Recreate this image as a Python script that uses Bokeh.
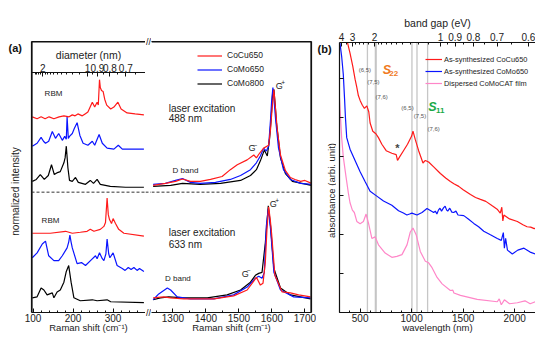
from bokeh.plotting import figure
from bokeh.models import (LinearAxis, FixedTicker, SingleIntervalTicker, Span, Label,
                          Legend, LegendItem, CustomJSTickFormatter)
from bokeh.layouts import row
from bokeh.embed import file_html
from bokeh.resources import INLINE

# ====================== DATA ======================
# ---- panel (a): RBM region, Raman shift (cm-1) vs normalized intensity (stacked, a.u.)
rbm488_cocu650_x = [98, 110, 120, 130, 140, 152, 165, 177, 190, 198, 205, 212, 223, 230, 237, 248, 254, 260,
                    263, 266, 268, 271, 275, 279, 284, 294, 302, 312, 320, 335, 355, 377]
rbm488_cocu650_y = [2.00, 1.98, 2.00, 1.98, 2.00, 1.98, 2.00, 2.01, 2.00, 2.02, 2.01, 2.03, 2.01, 2.03, 2.05,
                    2.15, 2.10, 2.15, 2.12, 2.38, 2.30, 2.27, 2.26, 2.18, 2.12, 2.08, 2.10, 2.15, 2.08, 2.04,
                    2.03, 2.02]
rbm488_como650_x = [98, 110, 120, 126, 131, 139, 148, 156, 164, 173, 179, 183, 185, 188, 191, 198, 203, 210,
                    217, 225, 237, 248, 254, 265, 273, 285, 302, 313, 323, 377]
rbm488_como650_y = [1.70, 1.73, 1.79, 1.75, 1.73, 1.75, 1.85, 1.78, 1.83, 1.76, 1.80, 1.77, 2.00, 1.78, 1.80,
                    1.83, 1.88, 1.94, 1.81, 1.73, 1.71, 1.75, 1.71, 1.82, 1.73, 1.68, 1.67, 1.71, 1.67, 1.67]
rbm488_como800_x = [98, 108, 118, 128, 138, 146, 153, 161, 168, 177, 180, 183, 187, 191, 198, 206, 213, 231,
                    243, 251, 260, 268, 293, 331, 377]
rbm488_como800_y = [1.34, 1.36, 1.41, 1.36, 1.40, 1.51, 1.41, 1.43, 1.44, 1.53, 1.58, 1.70, 1.48, 1.35, 1.34,
                    1.38, 1.33, 1.31, 1.35, 1.32, 1.36, 1.31, 1.29, 1.28, 1.28]
rbm633_cocu650_x = [98, 143, 181, 198, 218, 235, 243, 252, 268, 277, 281, 285, 288, 291, 296, 300, 306, 314,
                    327, 377]
rbm633_cocu650_y = [0.81, 0.81, 0.83, 0.81, 0.82, 0.83, 0.85, 0.83, 0.85, 0.88, 0.92, 1.17, 1.00, 0.95, 0.91,
                    0.96, 0.91, 0.85, 0.81, 0.78]
rbm633_como650_x = [98, 110, 123, 131, 139, 152, 164, 173, 185, 189, 192, 195, 198, 210, 221, 231, 246, 256,
                    260, 266, 273, 277, 282, 285, 289, 292, 300, 310, 323, 330, 338, 345, 352, 360, 366, 377]
rbm633_como650_y = [0.56, 0.61, 0.70, 0.73, 0.58, 0.53, 0.53, 0.58, 0.66, 0.72, 0.79, 0.72, 0.66, 0.50, 0.51,
                    0.48, 0.54, 0.58, 0.55, 0.61, 0.55, 0.53, 0.60, 0.75, 0.60, 0.56, 0.61, 0.48, 0.45, 0.43,
                    0.46, 0.44, 0.46, 0.43, 0.45, 0.42]
rbm633_como800_x = [98, 110, 120, 127, 135, 148, 152, 160, 168, 177, 183, 189, 195, 202, 218, 248, 260, 285,
                    294, 377]
rbm633_como800_y = [0.15, 0.16, 0.25, 0.23, 0.18, 0.20, 0.15, 0.21, 0.23, 0.31, 0.42, 0.48, 0.31, 0.15, 0.12,
                    0.13, 0.12, 0.13, 0.11, 0.10]

# ---- panel (a): D / G band region
g488_cocu650_x = [1240, 1277, 1308, 1329, 1353, 1383, 1414, 1449, 1474, 1495, 1525, 1545, 1553, 1563, 1575,
                  1590, 1596, 1601, 1606, 1611, 1616, 1626, 1641, 1656, 1670, 1687, 1700, 1720]
g488_cocu650_y = [1.30, 1.32, 1.34, 1.365, 1.34, 1.34, 1.36, 1.39, 1.46, 1.51, 1.56, 1.61, 1.58, 1.63, 1.68,
                  1.71, 1.88, 2.10, 2.28, 2.08, 1.88, 1.61, 1.45, 1.38, 1.36, 1.34, 1.35, 1.32]
g488_como650_x = [1240, 1277, 1308, 1329, 1353, 1383, 1429, 1474, 1505, 1535, 1553, 1565, 1575, 1583, 1590,
                  1596, 1599, 1603, 1607, 1611, 1620, 1635, 1656, 1687, 1720]
g488_como650_y = [1.31, 1.32, 1.35, 1.37, 1.33, 1.32, 1.33, 1.36, 1.40, 1.46, 1.53, 1.60, 1.68, 1.65, 1.70,
                  1.98, 2.15, 2.30, 2.15, 1.98, 1.68, 1.46, 1.36, 1.32, 1.31]
g488_como800_x = [1240, 1293, 1329, 1383, 1444, 1505, 1535, 1553, 1565, 1577, 1586, 1593, 1598, 1602, 1606,
                  1610, 1614, 1626, 1641, 1662, 1720]
g488_como800_y = [1.29, 1.30, 1.32, 1.31, 1.32, 1.35, 1.40, 1.46, 1.55, 1.66, 1.60, 1.78, 2.00, 2.23, 2.28,
                  2.12, 1.93, 1.58, 1.42, 1.34, 1.30]
g633_cocu650_x = [1240, 1272, 1293, 1333, 1424, 1484, 1525, 1545, 1553, 1565, 1573, 1580, 1585, 1590, 1595,
                  1599, 1609, 1631, 1656, 1681, 1717]
g633_cocu650_y = [0.15, 0.16, 0.15, 0.14, 0.14, 0.17, 0.23, 0.32, 0.36, 0.28, 0.30, 0.51, 0.85, 1.08, 0.95,
                  0.81, 0.38, 0.21, 0.20, 0.18, 0.16]
g633_como650_x = [1240, 1257, 1283, 1293, 1313, 1353, 1424, 1484, 1525, 1550, 1560, 1570, 1577, 1583, 1589,
                  1596, 1606, 1626, 1666, 1717]
g633_como650_y = [0.13, 0.19, 0.25, 0.23, 0.16, 0.14, 0.14, 0.18, 0.26, 0.35, 0.37, 0.35, 0.41, 0.88, 1.06,
                  0.85, 0.41, 0.23, 0.16, 0.15]
g633_como800_x = [1240, 1262, 1287, 1333, 1404, 1464, 1505, 1535, 1550, 1560, 1570, 1580, 1589, 1596, 1606,
                  1626, 1656, 1717]
g633_como800_y = [0.13, 0.15, 0.16, 0.15, 0.15, 0.18, 0.23, 0.31, 0.38, 0.40, 0.41, 0.71, 1.09, 0.88, 0.45,
                  0.25, 0.18, 0.14]
separator_level = 1.23          # dashed line between the 488 nm and 633 nm stacks

# top axis of (a): tube diameter (nm), RBM relation w = 223.5/d + 12.5
diam_labels = [2, 1, 0.9, 0.8, 0.7]
diam_minor = [2.4, 2.3, 2.2, 2.1, 1.9, 1.8, 1.7, 1.6, 1.5, 1.4, 1.3, 1.2, 1.1, 0.95, 0.85, 0.75, 0.65]

# ---- panel (b): absorbance spectra, wavelength (nm) vs absorbance (a.u.)
abs_cocu650_x = [370, 376, 402, 429, 451, 468, 483, 500, 522, 542, 565, 584, 597, 623, 653, 678, 711, 753,
                 808, 850, 863, 882, 921, 960, 1000, 1013, 1035, 1068, 1110, 1133, 1165, 1214, 1279, 1330,
                 1376, 1410, 1457, 1500, 1571, 1620, 1668, 1720, 1782, 1830, 1860, 1875, 1885, 1895, 1950,
                 2026, 2080, 2120, 2155, 2190, 2220, 2250, 2280]
abs_cocu650_y = [1.45, 1.388, 1.33, 1.263, 1.197, 1.155, 1.113, 1.088, 1.063, 1.047, 1.06, 1.03, 0.972,
                 0.93, 0.917, 0.897, 0.863, 0.83, 0.817, 0.81, 0.78, 0.797, 0.83, 0.863, 0.905, 0.93, 0.888,
                 0.83, 0.767, 0.78, 0.772, 0.747, 0.713, 0.69, 0.672, 0.66, 0.647, 0.63, 0.605, 0.59, 0.58,
                 0.57, 0.547, 0.53, 0.51, 0.54, 0.47, 0.50, 0.48, 0.467, 0.45, 0.44, 0.438, 0.43, 0.44, 0.42,
                 0.42]
abs_como650_x = [300, 321, 337, 349, 358, 370, 402, 451, 500, 548, 597, 662, 727, 808, 873, 920, 954, 980,
                 1003, 1052, 1101, 1149, 1214, 1230, 1245, 1260, 1275, 1290, 1311, 1325, 1340, 1350, 1370,
                 1390, 1408, 1430, 1450, 1506, 1550, 1603, 1650, 1700, 1760, 1831, 1870, 1890, 1900, 1912,
                 1930, 1977, 2030, 2090, 2150, 2200, 2280]
abs_como650_y = [1.40, 1.313, 1.22, 1.097, 0.997, 0.897, 0.838, 0.78, 0.722, 0.672, 0.622, 0.597, 0.572,
                 0.55, 0.522, 0.51, 0.50, 0.505, 0.51, 0.50, 0.513, 0.533, 0.513, 0.52, 0.505, 0.525, 0.535,
                 0.52, 0.538, 0.545, 0.525, 0.52, 0.535, 0.515, 0.513, 0.52, 0.50, 0.497, 0.48, 0.457, 0.44,
                 0.417, 0.40, 0.38, 0.37, 0.41, 0.33, 0.38, 0.32, 0.30, 0.32, 0.33, 0.31, 0.30, 0.288]
abs_film_x = [300, 321, 337, 363, 386, 402, 425, 444, 468, 500, 532, 558, 585, 614, 646, 678, 743, 808, 857,
              906, 955, 987, 1013, 1045, 1084, 1133, 1165, 1198, 1247, 1296, 1376, 1400, 1410, 1474, 1636,
              1831, 1850, 1870, 1900, 1950, 2026, 2100, 2150, 2200, 2280]
abs_film_y = [1.10, 0.897, 0.797, 0.697, 0.613, 0.563, 0.525, 0.513, 0.467, 0.455, 0.467, 0.505, 0.45, 0.38,
              0.388, 0.347, 0.305, 0.283, 0.288, 0.297, 0.347, 0.413, 0.433, 0.397, 0.313, 0.263, 0.255,
              0.23, 0.18, 0.147, 0.113, 0.115, 0.10, 0.088, 0.067, 0.055, 0.07, 0.04, 0.065, 0.045, 0.05,
              0.06, 0.045, 0.055, 0.05]
# S22 / S11 transition wavelengths of (6,5), (7,5), (7,6) (nm)
transition_nm = [571, 648, 656, 1003, 1052, 1155]

# top axis of (b): band gap (eV), placed as drawn in the source figure (lambda = 1280 / E)
ev_labels = [4, 3, 2, 1, 0.9, 0.8, 0.7, 0.6]
ev_minor = [3.5, 2.8, 2.6, 2.4, 2.2, 1.9, 1.8, 1.7, 1.6, 1.5, 1.4, 1.3, 1.2, 1.1, 0.95, 0.85, 0.75, 0.65]

# ====================== STYLE / LAYOUT ======================
FONT = "Liberation Sans"
TXT = "#222222"
AXC = "#111111"
RED = "#ff1a1a"
BLUE = "#0a14ff"
BLACK = "#000000"
PINK = "#ff86c8"
ORANGE = "#f07a1e"
GREEN = "#1aaa48"
H = 337
TOP_A, TOP_B, BOTTOM = 41, 42, 25
RAMAN = "Raman shift (cm\u207b\u00b9)"
YMAX_A = 2.77
EMPTY = CustomJSTickFormatter(code="return ''")


def style_axis(ax):
    ax.axis_line_color = AXC
    ax.axis_line_width = 1.2
    ax.major_tick_line_color = AXC
    ax.minor_tick_line_color = AXC
    ax.major_tick_in = 4
    ax.major_tick_out = 0
    ax.minor_tick_in = 2
    ax.minor_tick_out = 0
    ax.major_label_text_font = FONT
    ax.major_label_text_font_size = "10px"
    ax.major_label_text_color = TXT
    ax.major_label_standoff = 1
    ax.axis_label_text_font = FONT
    ax.axis_label_text_font_size = "9.5px"
    ax.axis_label_text_font_style = "normal"
    ax.axis_label_text_color = TXT
    ax.axis_label_standoff = -3


def line_only(ax, mid):
    # frame edge drawn as an axis line only: one hidden tick, no label
    ax.ticker = FixedTicker(ticks=[mid])
    ax.formatter = EMPTY
    style_axis(ax)
    ax.major_tick_line_color = None
    ax.minor_tick_line_color = None
    ax.major_tick_out = 1
    ax.major_label_standoff = 0
    ax.axis_label_standoff = 0
    return ax


def frame_edge(p, loc, dim):
    # reinforce a frame edge that has no tick marks
    p.add_layout(Span(location=loc, dimension=dim, line_color=AXC, line_width=2.2))


def add_text(p, x, y, text, size="8px", color=TXT, align="center", baseline="middle",
             style="normal", angle=0):
    p.add_layout(Label(x=x, y=y, text=text, text_font=FONT, text_font_size=size,
                       text_color=color, text_align=align, text_baseline=baseline,
                       text_font_style=style, angle=angle, angle_units="deg"))


def base_fig(width, xr, yr, left, right, top, bottom, yloc="left"):
    p = figure(width=width, height=H, x_range=xr, y_range=yr, output_backend="svg",
               toolbar_location=None, min_border_left=left, min_border_right=right,
               min_border_top=top, min_border_bottom=bottom, y_axis_location=yloc)
    p.frame_align = False
    p.grid.visible = False
    p.outline_line_color = None
    return p


def gutter(width):
    # narrow text-only strip (pixel coordinates, y downwards)
    p = figure(width=width, height=H, x_range=(0, width), y_range=(H, 0), output_backend="svg",
               toolbar_location=None, min_border=0, x_axis_location=None, y_axis_location=None)
    p.frame_align = False
    p.grid.visible = False
    p.outline_line_color = None
    return p


frame_h_a = H - TOP_A - BOTTOM
sep_px = TOP_A + (YMAX_A - separator_level) / YMAX_A * frame_h_a

# ---------------- gutter left of (a) ----------------
gA = gutter(23)
add_text(gA, 8, 47.5, "(a)", "11px", "#111111", align="left", style="bold")
add_text(gA, 15, 191, "normalized intensity", "10px", angle=90)

# ====================== PANEL (a) left: RBM ======================
RBM_RANGE = (96, 381)
aL = base_fig(122, RBM_RANGE, (0, YMAX_A), 8, 0, TOP_A, BOTTOM)
aL.xaxis.ticker = SingleIntervalTicker(interval=100, num_minor_ticks=5)
aL.xaxis.axis_label = RAMAN
style_axis(aL.xaxis[0])
line_only(aL.yaxis[0], 1.0)
aL.add_layout(line_only(LinearAxis(), 200), "above")
frame_edge(aL, RBM_RANGE[0], "height")
frame_edge(aL, YMAX_A, "width")

diam_pos = [round(223.5 / d + 12.5, 2) for d in diam_labels]
diam_minor_pos = [round(223.5 / d + 12.5, 2) for d in diam_minor]
diam_axis = LinearAxis(fixed_location=2.453,
                       ticker=FixedTicker(ticks=diam_pos, minor_ticks=diam_minor_pos),
                       major_label_overrides={p: f"{d:g}" for p, d in zip(diam_pos, diam_labels)},
                       axis_label="diameter (nm)")
style_axis(diam_axis)
diam_axis.axis_line_width = 1
diam_axis.axis_label_text_font_size = "10.5px"
diam_axis.axis_label_standoff = 0
aL.add_layout(diam_axis, "above")

for xs, ys, c in [(rbm488_como800_x, rbm488_como800_y, BLACK), (rbm488_como650_x, rbm488_como650_y, BLUE),
                  (rbm488_cocu650_x, rbm488_cocu650_y, RED), (rbm633_como800_x, rbm633_como800_y, BLACK),
                  (rbm633_como650_x, rbm633_como650_y, BLUE), (rbm633_cocu650_x, rbm633_cocu650_y, RED)]:
    aL.line(xs, ys, line_color=c, line_width=1.2)
aL.add_layout(Span(location=separator_level, dimension="width", line_dash="3 2",
                   line_color="#333333", line_width=1))
add_text(aL, 151, 2.24, "RBM", "8px")
add_text(aL, 143.5, 0.937, "RBM", "8px")

# ---------------- axis break ----------------
gap = gutter(6)
add_text(gap, 3, TOP_A, "//", "9px", AXC)
add_text(gap, 3, H - BOTTOM, "//", "9px", AXC)
gap.add_layout(Span(location=sep_px, dimension="width", line_dash="3 2",
                    line_color="#333333", line_width=1))

# ====================== PANEL (a) right: D / G ======================
G_RANGE = (1235, 1720)
aR = base_fig(165, G_RANGE, (0, YMAX_A), 0, 5, TOP_A, BOTTOM, yloc="right")
aR.xaxis.ticker = SingleIntervalTicker(interval=100, num_minor_ticks=2)
aR.xaxis.axis_label = RAMAN
style_axis(aR.xaxis[0])
line_only(aR.yaxis[0], 1.0)
aR.add_layout(line_only(LinearAxis(), 1500), "above")
frame_edge(aR, G_RANGE[1], "height")
frame_edge(aR, YMAX_A, "width")

rend = {}
for key, xs, ys, c in [("k1", g488_como800_x, g488_como800_y, BLACK),
                       ("b1", g488_como650_x, g488_como650_y, BLUE),
                       ("r1", g488_cocu650_x, g488_cocu650_y, RED),
                       ("k2", g633_como800_x, g633_como800_y, BLACK),
                       ("b2", g633_como650_x, g633_como650_y, BLUE),
                       ("r2", g633_cocu650_x, g633_cocu650_y, RED)]:
    rend[key] = aR.line(xs, ys, line_color=c, line_width=1.2)
aR.add_layout(Span(location=separator_level, dimension="width", line_dash="3 2",
                   line_color="#333333", line_width=1))

leg_a = Legend(items=[LegendItem(label="CoCu650", renderers=[rend["r1"]]),
                      LegendItem(label="CoMo650", renderers=[rend["b1"]]),
                      LegendItem(label="CoMo800", renderers=[rend["k1"]])],
               location=(46, 222.5), glyph_width=25, glyph_height=13, label_height=13,
               label_standoff=5, spacing=1, padding=0, margin=0, border_line_color=None,
               background_fill_alpha=0, label_text_font=FONT, label_text_font_size="8.5px",
               label_text_color=TXT)
aR.add_layout(leg_a)

add_text(aR, 1287, 2.087, "laser excitation", "10px", align="left")
add_text(aR, 1287, 1.987, "488 nm", "10px", align="left")
add_text(aR, 1287, 0.82, "laser excitation", "10px", align="left")
add_text(aR, 1287, 0.697, "633 nm", "10px", align="left")
add_text(aR, 1338, 1.447, "D band", "8px")
add_text(aR, 1315, 0.347, "D band", "8px")
add_text(aR, 1540, 1.68, "G", "9px")
add_text(aR, 1551, 1.71, "\u2212", "6.5px")
add_text(aR, 1622, 2.32, "G", "9px")
add_text(aR, 1634, 2.353, "+", "6.5px")
add_text(aR, 1519, 0.397, "G", "9px")
add_text(aR, 1530, 0.43, "\u2212", "6.5px")
add_text(aR, 1604, 1.113, "G", "9px")
add_text(aR, 1616, 1.147, "+", "6.5px")

# ---------------- gutter left of (b) ----------------
gB = gutter(20)
add_text(gB, 1, 48, "(b)", "11px", "#111111", align="left", style="bold")
add_text(gB, 14.7, 190, "absorbance (arbi. unit)", "9.5px", angle=90)

# ====================== PANEL (b) ======================
b = base_fig(199, (300, 2202), (0, 1.385), 3, 0, TOP_B, BOTTOM)
b.xaxis.ticker = SingleIntervalTicker(interval=500, num_minor_ticks=5)
b.xaxis.axis_label = "wavelength (nm)"
b.yaxis.ticker = SingleIntervalTicker(interval=0.2, num_minor_ticks=0)
b.yaxis.formatter = EMPTY
style_axis(b.xaxis[0])
style_axis(b.yaxis[0])
b.yaxis.major_label_standoff = 0

HC = 1280.0
ev_pos = [round(HC / e, 1) for e in ev_labels]
ev_minor_pos = [round(HC / e, 1) for e in ev_minor]
ev_axis = LinearAxis(ticker=FixedTicker(ticks=ev_pos, minor_ticks=ev_minor_pos),
                     major_label_overrides={p: f"{e:g}" for p, e in zip(ev_pos, ev_labels)},
                     axis_label="band gap (eV)")
style_axis(ev_axis)
ev_axis.major_label_standoff = 2
ev_axis.axis_label_standoff = 1
ev_axis.axis_label_text_font_size = "10.5px"
b.add_layout(ev_axis, "above")

for lam in transition_nm:
    b.add_layout(Span(location=lam, dimension="height", line_color="#c6c6c6", line_width=1.3,
                      level="underlay"))

r_film = b.line(abs_film_x, abs_film_y, line_color=PINK, line_width=1.2)
r_mo = b.line(abs_como650_x, abs_como650_y, line_color=BLUE, line_width=1.2)
r_cu = b.line(abs_cocu650_x, abs_cocu650_y, line_color=RED, line_width=1.2)

leg_b = Legend(items=[LegendItem(label="As-synthesized CoCu650", renderers=[r_cu]),
                      LegendItem(label="As-synthesized CoMo650", renderers=[r_mo]),
                      LegendItem(label="Dispersed CoMoCAT film", renderers=[r_film])],
               location=(86, 222.7), glyph_width=17, glyph_height=12, label_height=12,
               label_standoff=2, spacing=0, padding=0, margin=0, border_line_color=None,
               background_fill_alpha=0, label_text_font=FONT, label_text_font_size="7.4px",
               label_text_color=TXT)
b.add_layout(leg_b)

GRAY = "#555555"
add_text(b, 547, 1.243, "(6,5)", "6px", GRAY)
add_text(b, 628, 1.183, "(7,5)", "6px", GRAY)
add_text(b, 709, 1.108, "(7,6)", "6px", GRAY)
add_text(b, 960, 1.05, "(6,5)", "6px", GRAY)
add_text(b, 1081, 1.01, "(7,5)", "6px", GRAY)
add_text(b, 1214, 0.943, "(7,6)", "6px", GRAY)
add_text(b, 719, 1.2465, "S", "12.5px", ORANGE, align="left", style="bold italic")
add_text(b, 783, 1.2265, "22", "8px", ORANGE, align="left", style="bold")
add_text(b, 1161, 1.0565, "S", "12.5px", GREEN, align="left", style="bold italic")
add_text(b, 1236, 1.0365, "11", "8px", GREEN, align="left", style="bold")
add_text(b, 861, 0.844, "*", "11px", "#444444", style="bold")

layout = row(gA, aL, gap, aR, gB, b)
open("out.html", "w").write(file_html(layout, INLINE))
